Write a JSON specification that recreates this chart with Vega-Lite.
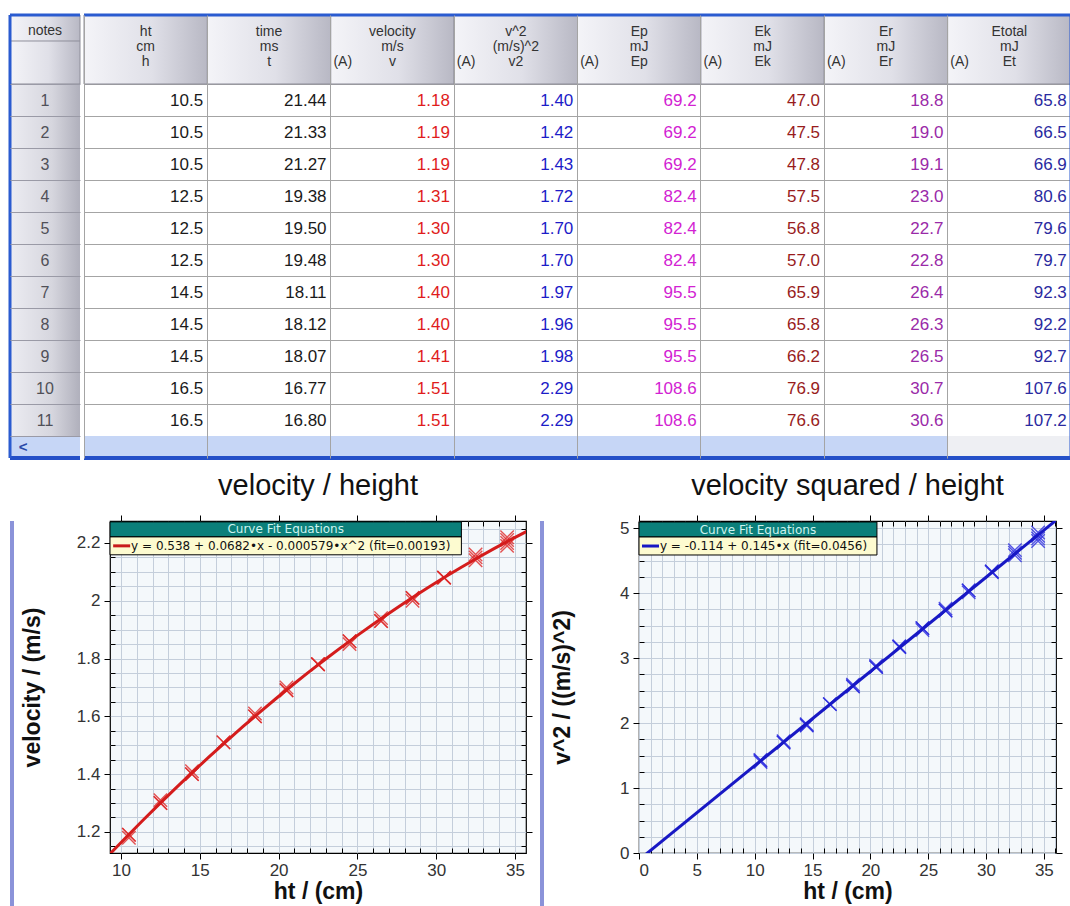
{
  "$schema": "https://vega.github.io/schema/vega-lite/v6.json",
  "padding": {"left": 8, "top": 13, "right": 0, "bottom": 0},
  "background": "white",
  "config": {
    "font": "Liberation Sans",
    "view": {"stroke": null},
    "axis": {"labelFont": "Liberation Sans", "titleFont": "Liberation Sans", "tickCount": 200, "labelOverlap": false}
  },
  "datasets": {
    "cols": [
      {"col": "h", "l1": "ht", "l2": "cm", "l3": "h", "a": false},
      {"col": "t", "l1": "time", "l2": "ms", "l3": "t", "a": false},
      {"col": "v", "l1": "velocity", "l2": "m/s", "l3": "v", "a": true},
      {"col": "v2", "l1": "v^2", "l2": "(m/s)^2", "l3": "v2", "a": true},
      {"col": "Ep", "l1": "Ep", "l2": "mJ", "l3": "Ep", "a": true},
      {"col": "Ek", "l1": "Ek", "l2": "mJ", "l3": "Ek", "a": true},
      {"col": "Er", "l1": "Er", "l2": "mJ", "l3": "Er", "a": true},
      {"col": "Et", "l1": "Etotal", "l2": "mJ", "l3": "Et", "a": true}
    ],
    "runs": [
      {"n": 1, "h": 10.5, "t": 21.44, "v": 1.18, "v2": 1.40, "Ep": 69.2, "Ek": 47.0, "Er": 18.8, "Et": 65.8},
      {"n": 2, "h": 10.5, "t": 21.33, "v": 1.19, "v2": 1.42, "Ep": 69.2, "Ek": 47.5, "Er": 19.0, "Et": 66.5},
      {"n": 3, "h": 10.5, "t": 21.27, "v": 1.19, "v2": 1.43, "Ep": 69.2, "Ek": 47.8, "Er": 19.1, "Et": 66.9},
      {"n": 4, "h": 12.5, "t": 19.38, "v": 1.31, "v2": 1.72, "Ep": 82.4, "Ek": 57.5, "Er": 23.0, "Et": 80.6},
      {"n": 5, "h": 12.5, "t": 19.50, "v": 1.30, "v2": 1.70, "Ep": 82.4, "Ek": 56.8, "Er": 22.7, "Et": 79.6},
      {"n": 6, "h": 12.5, "t": 19.48, "v": 1.30, "v2": 1.70, "Ep": 82.4, "Ek": 57.0, "Er": 22.8, "Et": 79.7},
      {"n": 7, "h": 14.5, "t": 18.11, "v": 1.40, "v2": 1.97, "Ep": 95.5, "Ek": 65.9, "Er": 26.4, "Et": 92.3},
      {"n": 8, "h": 14.5, "t": 18.12, "v": 1.40, "v2": 1.96, "Ep": 95.5, "Ek": 65.8, "Er": 26.3, "Et": 92.2},
      {"n": 9, "h": 14.5, "t": 18.07, "v": 1.41, "v2": 1.98, "Ep": 95.5, "Ek": 66.2, "Er": 26.5, "Et": 92.7},
      {"n": 10, "h": 16.5, "t": 16.77, "v": 1.51, "v2": 2.29, "Ep": 108.6, "Ek": 76.9, "Er": 30.7, "Et": 107.6},
      {"n": 11, "h": 16.5, "t": 16.80, "v": 1.51, "v2": 2.29, "Ep": 108.6, "Ek": 76.6, "Er": 30.6, "Et": 107.2},
      {"n": 12, "h": 18.5, "v": 1.60, "v2": 2.56},
      {"n": 13, "h": 18.5, "v": 1.61, "v2": 2.59},
      {"n": 14, "h": 18.5, "v": 1.60, "v2": 2.57},
      {"n": 15, "h": 20.5, "v": 1.69, "v2": 2.86},
      {"n": 16, "h": 20.5, "v": 1.69, "v2": 2.86},
      {"n": 17, "h": 20.5, "v": 1.70, "v2": 2.88},
      {"n": 18, "h": 22.5, "v": 1.78, "v2": 3.17},
      {"n": 19, "h": 22.5, "v": 1.78, "v2": 3.17},
      {"n": 20, "h": 22.5, "v": 1.78, "v2": 3.18},
      {"n": 21, "h": 24.5, "v": 1.86, "v2": 3.46},
      {"n": 22, "h": 24.5, "v": 1.86, "v2": 3.46},
      {"n": 23, "h": 24.5, "v": 1.85, "v2": 3.43},
      {"n": 24, "h": 26.5, "v": 1.93, "v2": 3.73},
      {"n": 25, "h": 26.5, "v": 1.94, "v2": 3.76},
      {"n": 26, "h": 26.5, "v": 1.93, "v2": 3.73},
      {"n": 27, "h": 28.5, "v": 2.01, "v2": 4.04},
      {"n": 28, "h": 28.5, "v": 2.01, "v2": 4.04},
      {"n": 29, "h": 28.5, "v": 2.00, "v2": 4.01},
      {"n": 30, "h": 30.5, "v": 2.08, "v2": 4.33},
      {"n": 31, "h": 30.5, "v": 2.08, "v2": 4.33},
      {"n": 32, "h": 30.5, "v": 2.08, "v2": 4.32},
      {"n": 33, "h": 32.5, "v": 2.15, "v2": 4.62},
      {"n": 34, "h": 32.5, "v": 2.14, "v2": 4.58},
      {"n": 35, "h": 32.5, "v": 2.16, "v2": 4.66},
      {"n": 36, "h": 34.5, "v": 2.22, "v2": 4.93},
      {"n": 37, "h": 34.5, "v": 2.20, "v2": 4.84},
      {"n": 38, "h": 34.5, "v": 2.19, "v2": 4.80},
      {"n": 39, "h": 34.5, "v": 2.21, "v2": 4.88}
    ]
  },
  "columns": 1,
  "spacing": 10,
  "concat": [
    {
      "spacing": 0,
      "hconcat": [
        {
          "width": 70,
          "height": 443,
          "layer": [
            {
              "data": {"values": [{}]},
              "mark": {"type": "rect", "fill": {"gradient": "linear", "x1": 0, "y1": 0, "x2": 1, "y2": 0, "stops": [{"offset": 0, "color": "#f4f4f8"}, {"offset": 0.55, "color": "#e0e0e8"}, {"offset": 1, "color": "#b8b8c4"}]}, "stroke": "#8e8e9a", "strokeWidth": 1},
              "encoding": {
                "x": {"value": 0},
                "x2": {"value": "width"},
                "y": {"datum": -2.156, "type": "quantitative", "scale": {"domain": [-2.156, 11.6875], "reverse": true, "nice": false, "zero": false}, "axis": {"values": [0, 1, 2, 3, 4, 5, 6, 7, 8, 9, 10, 11], "grid": true, "gridColor": "#9a9aa6", "labels": false, "ticks": false, "domain": false, "title": null, "zindex": 1}},
                "y2": {"datum": 0}
              }
            },
            {
              "data": {"values": [{}]},
              "mark": {"type": "rect", "fill": {"gradient": "linear", "x1": 0, "y1": 0, "x2": 1, "y2": 0, "stops": [{"offset": 0, "color": "#ececf2"}, {"offset": 0.6, "color": "#d6d6de"}, {"offset": 1, "color": "#b0b0bc"}]}},
              "encoding": {
                "x": {"value": 0},
                "x2": {"value": "width"},
                "y": {"datum": 0, "type": "quantitative"},
                "y2": {"datum": 11}
              }
            },
            {
              "data": {"values": [{}]},
              "mark": {"type": "rule", "color": "#8e8e9a", "strokeWidth": 1},
              "encoding": {"y": {"datum": -1.344, "type": "quantitative"}}
            },
            {
              "data": {"values": [{}]},
              "mark": {"type": "text", "text": "notes", "fontSize": 14, "color": "#333333", "baseline": "alphabetic"},
              "encoding": {"y": {"datum": -1.53, "type": "quantitative"}}
            },
            {
              "data": {"name": "runs"},
              "transform": [{"filter": "datum.n <= 11"}],
              "mark": {"type": "text", "fontSize": 16, "color": "#505058", "baseline": "alphabetic", "dy": -10},
              "encoding": {
                "y": {"field": "n", "type": "quantitative"},
                "text": {"field": "n", "type": "quantitative"}
              }
            },
            {
              "data": {"values": [{}]},
              "mark": {"type": "rect", "fill": "#c6d6f6"},
              "encoding": {
                "x": {"value": 0},
                "x2": {"value": "width"},
                "y": {"datum": 11, "type": "quantitative"},
                "y2": {"datum": 11.6875}
              }
            },
            {
              "data": {"values": [{}]},
              "mark": {"type": "text", "text": "<", "fontSize": 15, "fontWeight": "bold", "color": "#2848a8", "baseline": "middle", "dx": -22},
              "encoding": {"y": {"datum": 11.34, "type": "quantitative"}}
            },
            {
              "data": {"values": [{}]},
              "mark": {"type": "rule", "color": "#2a5bd0", "strokeWidth": 3},
              "encoding": {"y": {"datum": -2.156, "type": "quantitative"}}
            },
            {
              "data": {"values": [{}]},
              "mark": {"type": "rule", "color": "#2450c8", "strokeWidth": 4},
              "encoding": {"y": {"datum": 11.6875, "type": "quantitative"}}
            },
            {
              "data": {"values": [{}]},
              "mark": {"type": "rule", "color": "#2a5bd0", "strokeWidth": 3},
              "encoding": {"x": {"value": 0}}
            }
          ]
        },
        {
          "width": 987,
          "height": 443,
          "layer": [
            {
              "data": {"name": "cols"},
              "mark": {"type": "rect", "fill": {"gradient": "linear", "x1": 0, "y1": 0, "x2": 1, "y2": 0, "stops": [{"offset": 0, "color": "#f4f4f8"}, {"offset": 0.55, "color": "#e0e0e8"}, {"offset": 1, "color": "#b8b8c4"}]}, "stroke": "#8e8e9a", "strokeWidth": 1},
              "encoding": {
                "x": {"field": "col", "type": "nominal", "scale": {"domain": ["h", "t", "v", "v2", "Ep", "Ek", "Er", "Et"], "paddingInner": 0, "paddingOuter": 0}, "axis": {"orient": "top", "grid": true, "bandPosition": 0, "gridColor": "#a4a4a4", "labels": false, "ticks": false, "domain": false, "title": null}},
                "y": {"datum": -2.156, "type": "quantitative", "scale": {"domain": [-2.156, 11.6875], "reverse": true, "nice": false, "zero": false}, "axis": {"values": [0, 1, 2, 3, 4, 5, 6, 7, 8, 9, 10, 11], "grid": true, "gridColor": "#a4a4a4", "labels": false, "ticks": false, "domain": false, "title": null}},
                "y2": {"datum": 0}
              }
            },
            {
              "data": {"name": "cols"},
              "mark": {"type": "text", "fontSize": 14, "color": "#333333", "baseline": "alphabetic"},
              "encoding": {"x": {"field": "col", "type": "nominal"}, "y": {"datum": -1.5, "type": "quantitative"}, "text": {"field": "l1"}}
            },
            {
              "data": {"name": "cols"},
              "mark": {"type": "text", "fontSize": 14, "color": "#333333", "baseline": "alphabetic"},
              "encoding": {"x": {"field": "col", "type": "nominal"}, "y": {"datum": -1.03, "type": "quantitative"}, "text": {"field": "l2"}}
            },
            {
              "data": {"name": "cols"},
              "mark": {"type": "text", "fontSize": 14, "color": "#333333", "baseline": "alphabetic"},
              "encoding": {"x": {"field": "col", "type": "nominal"}, "y": {"datum": -0.5625, "type": "quantitative"}, "text": {"field": "l3"}}
            },
            {
              "data": {"name": "cols"},
              "transform": [{"filter": "datum.a"}],
              "mark": {"type": "text", "fontSize": 14, "color": "#333333", "baseline": "alphabetic", "align": "left", "dx": -59, "text": "(A)"},
              "encoding": {"x": {"field": "col", "type": "nominal"}, "y": {"datum": -0.5625, "type": "quantitative"}}
            },
            {
              "data": {"name": "runs"},
              "transform": [{"filter": "datum.n <= 11"}],
              "mark": {"type": "text", "fontSize": 17, "color": "#1a1a1a", "baseline": "alphabetic", "align": "right", "dx": 57.5, "dy": -10},
              "encoding": {"x": {"datum": "h"}, "y": {"field": "n", "type": "quantitative"}, "text": {"field": "h", "type": "quantitative", "format": ".1f"}}
            },
            {
              "data": {"name": "runs"},
              "transform": [{"filter": "datum.n <= 11"}],
              "mark": {"type": "text", "fontSize": 17, "color": "#1a1a1a", "baseline": "alphabetic", "align": "right", "dx": 57.5, "dy": -10},
              "encoding": {"x": {"datum": "t"}, "y": {"field": "n", "type": "quantitative"}, "text": {"field": "t", "type": "quantitative", "format": ".2f"}}
            },
            {
              "data": {"name": "runs"},
              "transform": [{"filter": "datum.n <= 11"}],
              "mark": {"type": "text", "fontSize": 17, "color": "#e01c1c", "baseline": "alphabetic", "align": "right", "dx": 57.5, "dy": -10},
              "encoding": {"x": {"datum": "v"}, "y": {"field": "n", "type": "quantitative"}, "text": {"field": "v", "type": "quantitative", "format": ".2f"}}
            },
            {
              "data": {"name": "runs"},
              "transform": [{"filter": "datum.n <= 11"}],
              "mark": {"type": "text", "fontSize": 17, "color": "#1c1cc8", "baseline": "alphabetic", "align": "right", "dx": 57.5, "dy": -10},
              "encoding": {"x": {"datum": "v2"}, "y": {"field": "n", "type": "quantitative"}, "text": {"field": "v2", "type": "quantitative", "format": ".2f"}}
            },
            {
              "data": {"name": "runs"},
              "transform": [{"filter": "datum.n <= 11"}],
              "mark": {"type": "text", "fontSize": 17, "color": "#d222d2", "baseline": "alphabetic", "align": "right", "dx": 57.5, "dy": -10},
              "encoding": {"x": {"datum": "Ep"}, "y": {"field": "n", "type": "quantitative"}, "text": {"field": "Ep", "type": "quantitative", "format": ".1f"}}
            },
            {
              "data": {"name": "runs"},
              "transform": [{"filter": "datum.n <= 11"}],
              "mark": {"type": "text", "fontSize": 17, "color": "#981c1c", "baseline": "alphabetic", "align": "right", "dx": 57.5, "dy": -10},
              "encoding": {"x": {"datum": "Ek"}, "y": {"field": "n", "type": "quantitative"}, "text": {"field": "Ek", "type": "quantitative", "format": ".1f"}}
            },
            {
              "data": {"name": "runs"},
              "transform": [{"filter": "datum.n <= 11"}],
              "mark": {"type": "text", "fontSize": 17, "color": "#9a2aa8", "baseline": "alphabetic", "align": "right", "dx": 57.5, "dy": -10},
              "encoding": {"x": {"datum": "Er"}, "y": {"field": "n", "type": "quantitative"}, "text": {"field": "Er", "type": "quantitative", "format": ".1f"}}
            },
            {
              "data": {"name": "runs"},
              "transform": [{"filter": "datum.n <= 11"}],
              "mark": {"type": "text", "fontSize": 17, "color": "#2a2aa0", "baseline": "alphabetic", "align": "right", "dx": 57.5, "dy": -10},
              "encoding": {"x": {"datum": "Et"}, "y": {"field": "n", "type": "quantitative"}, "text": {"field": "Et", "type": "quantitative", "format": ".1f"}}
            },
            {
              "data": {"values": [{}]},
              "mark": {"type": "rect", "fill": "#c6d6f6"},
              "encoding": {"x": {"value": 0}, "x2": {"value": "width"}, "y": {"datum": 11, "type": "quantitative"}, "y2": {"datum": 11.6875}}
            },
            {
              "data": {"values": [{}]},
              "mark": {"type": "rect", "fill": "#eeeff3"},
              "encoding": {"x": {"datum": "Et"}, "y": {"datum": 11, "type": "quantitative"}, "y2": {"datum": 11.6875}}
            },
            {
              "data": {"values": [{}]},
              "mark": {"type": "rule", "color": "#2a5bd0", "strokeWidth": 3},
              "encoding": {"y": {"datum": -2.156, "type": "quantitative"}}
            },
            {
              "data": {"values": [{}]},
              "mark": {"type": "rule", "color": "#2450c8", "strokeWidth": 4},
              "encoding": {"y": {"datum": 11.6875, "type": "quantitative"}}
            },
            {
              "data": {"values": [{}]},
              "mark": {"type": "rule", "color": "#2a5bd0", "strokeWidth": 3},
              "encoding": {"x": {"value": "width"}}
            }
          ]
        }
      ]
    },
    {
      "spacing": 6,
      "hconcat": [
        {
          "width": 4,
          "height": 385,
          "view": {"fill": "#8b93d9", "stroke": null},
          "data": {"values": [{}]},
          "mark": {"type": "text", "text": ""}
        },
        {
          "width": 416,
          "height": 332,
          "title": {"text": "velocity / height", "fontSize": 29, "fontWeight": "normal", "frame": "group", "baseline": "alphabetic", "offset": -9, "color": "#111111"},
          "view": {"fill": "#f4f8fb", "stroke": "#000000", "strokeWidth": 1.2},
          "resolve": {"scale": {"x": "independent", "y": "independent"}},
          "layer": [
            {
              "layer": [
                {
                  "data": {"name": "runs"},
                  "mark": {"type": "point", "shape": "M-1,-1L1,1M-1,1L1,-1", "filled": false, "strokeWidth": 1.4, "size": 180, "color": "#e02828", "opacity": 0.8},
                  "encoding": {
                    "x": {"field": "h", "type": "quantitative", "title": "ht / (cm)", "scale": {"domain": [9.3, 35.7], "nice": false, "zero": false},
                      "axis": {"values": [10, 11, 12, 13, 14, 15, 16, 17, 18, 19, 20, 21, 22, 23, 24, 25, 26, 27, 28, 29, 30, 31, 32, 33, 34, 35], "tickCount": 200, "labelOverlap": false, "grid": true, "gridColor": "#c4cedb", "domain": false, "tickColor": "#000000", "tickSize": {"condition": {"test": "datum.value % 5 === 0", "value": 6}, "value": -5}, "labelExpr": "datum.value % 5 === 0 ? format(datum.value, 'd') : ''", "labelFontSize": 17, "labelColor": "#333333", "labelPadding": 3, "titleFontSize": 23, "titleFontWeight": "bold", "titleColor": "#111111", "titlePadding": 2}},
                    "y": {"field": "v", "type": "quantitative", "title": "velocity / (m/s)", "scale": {"domain": [1.127, 2.276], "nice": false, "zero": false},
                      "axis": {"values": [1.15, 1.2, 1.25, 1.3, 1.35, 1.4, 1.45, 1.5, 1.55, 1.6, 1.65, 1.7, 1.75, 1.8, 1.85, 1.9, 1.95, 2, 2.05, 2.1, 2.15, 2.2, 2.25], "tickCount": 200, "labelOverlap": false, "grid": true, "gridColor": "#c4cedb", "domain": false, "tickColor": "#000000", "tickSize": {"condition": {"test": "abs(datum.value*5 - round(datum.value*5)) < 0.001", "value": 6}, "value": -5}, "labelExpr": "abs(datum.value*5 - round(datum.value*5)) < 0.001 ? format(datum.value, '~g') : ''", "labelFontSize": 17, "labelColor": "#333333", "labelPadding": 4, "titleFontSize": 23, "titleFontWeight": "bold", "titleColor": "#111111", "titlePadding": 32}}
                  }
                },
                {
                  "data": {"name": "runs"},
                  "transform": [{"regression": "v", "on": "h", "method": "poly", "order": 2, "extent": [9.2, 35.8]}],
                  "mark": {"type": "line", "color": "#d41c1c", "strokeWidth": 3, "clip": true},
                  "encoding": {
                    "x": {"field": "h", "type": "quantitative", "title": "ht / (cm)"},
                    "y": {"field": "v", "type": "quantitative", "title": "velocity / (m/s)"}
                  }
                },
                {
                  "data": {"values": [{}]},
                  "mark": {"type": "rect", "color": "#0b7f7a", "stroke": "#000000", "strokeWidth": 1},
                  "encoding": {"x": {"datum": 9.3, "type": "quantitative"}, "x2": {"datum": 31.6}, "y": {"datum": 2.273, "type": "quantitative"}, "y2": {"datum": 2.221}}
                },
                {
                  "data": {"values": [{}]},
                  "mark": {"type": "rect", "color": "#fdfbd0", "stroke": "#000000", "strokeWidth": 1},
                  "encoding": {"x": {"datum": 9.3, "type": "quantitative"}, "x2": {"datum": 31.6}, "y": {"datum": 2.221, "type": "quantitative"}, "y2": {"datum": 2.159}}
                },
                {
                  "data": {"values": [{}]},
                  "mark": {"type": "text", "text": "Curve Fit Equations", "font": "DejaVu Sans", "fontSize": 12, "color": "#cdf3ef", "baseline": "middle"},
                  "encoding": {"x": {"datum": 20.45, "type": "quantitative"}, "y": {"datum": 2.247, "type": "quantitative"}}
                },
                {
                  "data": {"values": [{}]},
                  "mark": {"type": "rule", "color": "#c81c1c", "strokeWidth": 3},
                  "encoding": {"x": {"datum": 9.5, "type": "quantitative"}, "x2": {"datum": 10.58}, "y": {"datum": 2.19, "type": "quantitative"}}
                },
                {
                  "data": {"values": [{}]},
                  "mark": {"type": "text", "text": "y = 0.538 + 0.0682•x - 0.000579•x^2 (fit=0.00193)", "font": "DejaVu Sans", "fontSize": 12, "color": "#111111", "baseline": "middle", "align": "left"},
                  "encoding": {"x": {"datum": 10.64, "type": "quantitative"}, "y": {"datum": 2.19, "type": "quantitative"}}
                }
              ]
            },
            {
              "data": {"name": "runs"},
              "mark": {"type": "point", "opacity": 0},
              "encoding": {
                "x": {"field": "h", "type": "quantitative", "scale": {"domain": [9.3, 35.7], "nice": false, "zero": false},
                  "axis": {"orient": "top", "values": [10, 11, 12, 13, 14, 15, 16, 17, 18, 19, 20, 21, 22, 23, 24, 25, 26, 27, 28, 29, 30, 31, 32, 33, 34, 35], "tickCount": 200, "labels": false, "grid": false, "domain": false, "title": null, "tickColor": "#000000", "tickSize": {"condition": {"test": "datum.value % 5 === 0", "value": 6}, "value": -5}}},
                "y": {"field": "v", "type": "quantitative", "scale": {"domain": [1.127, 2.276], "nice": false, "zero": false},
                  "axis": {"orient": "right", "values": [1.15, 1.2, 1.25, 1.3, 1.35, 1.4, 1.45, 1.5, 1.55, 1.6, 1.65, 1.7, 1.75, 1.8, 1.85, 1.9, 1.95, 2, 2.05, 2.1, 2.15, 2.2, 2.25], "tickCount": 200, "labels": false, "grid": false, "domain": false, "title": null, "tickColor": "#000000", "tickSize": {"condition": {"test": "abs(datum.value*5 - round(datum.value*5)) < 0.001", "value": 6}, "value": -5}}}
              }
            }
          ]
        },
        {
          "width": 4,
          "height": 385,
          "view": {"fill": "#8b93d9", "stroke": null},
          "data": {"values": [{}]},
          "mark": {"type": "text", "text": ""}
        },
        {
          "width": 417,
          "height": 332,
          "title": {"text": "velocity squared / height", "fontSize": 29, "fontWeight": "normal", "frame": "group", "baseline": "alphabetic", "offset": -9, "color": "#111111"},
          "view": {"fill": "#f4f8fb", "stroke": "#000000", "strokeWidth": 1.2},
          "resolve": {"scale": {"x": "independent", "y": "independent"}},
          "layer": [
            {
              "layer": [
                {
                  "data": {"name": "runs"},
                  "mark": {"type": "point", "shape": "M-1,-1L1,1M-1,1L1,-1", "filled": false, "strokeWidth": 1.4, "size": 180, "color": "#2a2ae0", "opacity": 0.8},
                  "encoding": {
                    "x": {"field": "h", "type": "quantitative", "title": "ht / (cm)", "scale": {"domain": [0, 36.05], "nice": false, "zero": false},
                      "axis": {"values": [0, 1, 2, 3, 4, 5, 6, 7, 8, 9, 10, 11, 12, 13, 14, 15, 16, 17, 18, 19, 20, 21, 22, 23, 24, 25, 26, 27, 28, 29, 30, 31, 32, 33, 34, 35, 36], "tickCount": 200, "labelOverlap": false, "grid": true, "gridColor": "#c4cedb", "domain": false, "tickColor": "#000000", "tickSize": {"condition": {"test": "datum.value % 5 === 0", "value": 6}, "value": -5}, "labelExpr": "datum.value % 5 === 0 ? format(datum.value, 'd') : ''", "labelFontSize": 17, "labelColor": "#333333", "labelPadding": 3, "titleFontSize": 23, "titleFontWeight": "bold", "titleColor": "#111111", "titlePadding": 2}},
                    "y": {"field": "v2", "type": "quantitative", "title": "v^2 / ((m/s)^2)", "scale": {"domain": [0, 5.108], "nice": false, "zero": false},
                      "axis": {"values": [0, 0.25, 0.5, 0.75, 1, 1.25, 1.5, 1.75, 2, 2.25, 2.5, 2.75, 3, 3.25, 3.5, 3.75, 4, 4.25, 4.5, 4.75, 5], "tickCount": 200, "labelOverlap": false, "grid": true, "gridColor": "#c4cedb", "domain": false, "tickColor": "#000000", "tickSize": {"condition": {"test": "datum.value % 1 === 0", "value": 6}, "value": -5}, "labelExpr": "datum.value % 1 === 0 ? format(datum.value, 'd') : ''", "labelFontSize": 17, "labelColor": "#333333", "labelPadding": 4, "titleFontSize": 23, "titleFontWeight": "bold", "titleColor": "#111111", "titlePadding": 45}}
                  }
                },
                {
                  "data": {"name": "runs"},
                  "transform": [{"regression": "v2", "on": "h", "method": "linear", "extent": [0, 36.1]}],
                  "mark": {"type": "line", "color": "#1818c4", "strokeWidth": 3, "clip": true},
                  "encoding": {
                    "x": {"field": "h", "type": "quantitative", "title": "ht / (cm)"},
                    "y": {"field": "v2", "type": "quantitative", "title": "v^2 / ((m/s)^2)"}
                  }
                },
                {
                  "data": {"values": [{}]},
                  "mark": {"type": "rect", "color": "#0b7f7a", "stroke": "#000000", "strokeWidth": 1},
                  "encoding": {"x": {"datum": 0, "type": "quantitative"}, "x2": {"datum": 20.57}, "y": {"datum": 5.093, "type": "quantitative"}, "y2": {"datum": 4.862}}
                },
                {
                  "data": {"values": [{}]},
                  "mark": {"type": "rect", "color": "#fdfbd0", "stroke": "#000000", "strokeWidth": 1},
                  "encoding": {"x": {"datum": 0, "type": "quantitative"}, "x2": {"datum": 20.57}, "y": {"datum": 4.862, "type": "quantitative"}, "y2": {"datum": 4.585}}
                },
                {
                  "data": {"values": [{}]},
                  "mark": {"type": "text", "text": "Curve Fit Equations", "font": "DejaVu Sans", "fontSize": 12, "color": "#cdf3ef", "baseline": "middle"},
                  "encoding": {"x": {"datum": 10.28, "type": "quantitative"}, "y": {"datum": 4.977, "type": "quantitative"}}
                },
                {
                  "data": {"values": [{}]},
                  "mark": {"type": "rule", "color": "#1818c4", "strokeWidth": 3},
                  "encoding": {"x": {"datum": 0.26, "type": "quantitative"}, "x2": {"datum": 1.73}, "y": {"datum": 4.723, "type": "quantitative"}}
                },
                {
                  "data": {"values": [{}]},
                  "mark": {"type": "text", "text": "y = -0.114 + 0.145•x (fit=0.0456)", "font": "DejaVu Sans", "fontSize": 12, "color": "#111111", "baseline": "middle", "align": "left"},
                  "encoding": {"x": {"datum": 1.81, "type": "quantitative"}, "y": {"datum": 4.723, "type": "quantitative"}}
                }
              ]
            },
            {
              "data": {"name": "runs"},
              "mark": {"type": "point", "opacity": 0},
              "encoding": {
                "x": {"field": "h", "type": "quantitative", "scale": {"domain": [0, 36.05], "nice": false, "zero": false},
                  "axis": {"orient": "top", "values": [0, 1, 2, 3, 4, 5, 6, 7, 8, 9, 10, 11, 12, 13, 14, 15, 16, 17, 18, 19, 20, 21, 22, 23, 24, 25, 26, 27, 28, 29, 30, 31, 32, 33, 34, 35, 36], "tickCount": 200, "labels": false, "grid": false, "domain": false, "title": null, "tickColor": "#000000", "tickSize": {"condition": {"test": "datum.value % 5 === 0", "value": 6}, "value": -5}}},
                "y": {"field": "v2", "type": "quantitative", "scale": {"domain": [0, 5.108], "nice": false, "zero": false},
                  "axis": {"orient": "right", "values": [0, 0.25, 0.5, 0.75, 1, 1.25, 1.5, 1.75, 2, 2.25, 2.5, 2.75, 3, 3.25, 3.5, 3.75, 4, 4.25, 4.5, 4.75, 5], "tickCount": 200, "labels": false, "grid": false, "domain": false, "title": null, "tickColor": "#000000", "tickSize": {"condition": {"test": "datum.value % 1 === 0", "value": 6}, "value": -5}}}
              }
            }
          ]
        },
        {
          "width": 4,
          "height": 385,
          "view": {"fill": "#8b93d9", "stroke": null},
          "data": {"values": [{}]},
          "mark": {"type": "text", "text": ""}
        }
      ]
    }
  ]
}
